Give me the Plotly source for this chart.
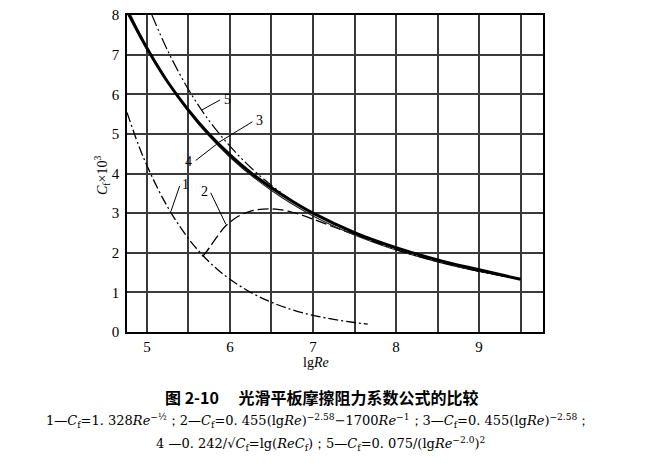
import plotly.graph_objects as go

# ---- data (lgRe, Cf x 10^3) ----
x1 = [4.76, 4.9, 5.0, 5.2, 5.4, 5.6, 5.8, 6.0, 6.25, 6.5, 6.75, 7.0, 7.25, 7.5, 7.66]
y1 = [5.54, 4.71, 4.20, 3.34, 2.65, 2.10, 1.67, 1.33, 1.00, 0.75, 0.56, 0.42, 0.32, 0.24, 0.20]

x2 = [5.67, 5.75, 5.85, 5.95, 6.1, 6.25, 6.4, 6.55, 6.7, 6.85, 7.0, 7.25, 7.5, 7.75, 8.0]
y2 = [1.9, 2.12, 2.42, 2.68, 2.92, 3.05, 3.1, 3.1, 3.05, 2.96, 2.85, 2.65, 2.46, 2.28, 2.11]

x3 = [4.76, 5.0, 5.25, 5.5, 5.75, 6.0, 6.25, 6.5, 6.75, 7.0, 7.5, 8.0, 8.5, 9.0, 9.5]
y3 = [8.1, 7.16, 6.31, 5.60, 4.99, 4.47, 4.02, 3.64, 3.30, 3.00, 2.51, 2.13, 1.82, 1.57, 1.33]

x4 = [4.76, 5.0, 5.5, 6.0, 6.5, 7.0, 7.5, 8.0, 8.5, 9.0, 9.5]
y4 = [8.2, 7.2, 5.56, 4.41, 3.57, 2.93, 2.45, 2.07, 1.77, 1.53, 1.34]

x5 = [5.06, 5.25, 5.5, 5.75, 6.0, 6.25, 6.5, 6.75, 7.0, 7.5, 8.0, 8.5, 9.0, 9.5]
y5 = [8.0, 7.10, 6.12, 5.33, 4.69, 4.15, 3.70, 3.32, 3.00, 2.48, 2.08, 1.78, 1.53, 1.33]

x_ticks = [5, 6, 7, 8, 9]
y_ticks = [0, 1, 2, 3, 4, 5, 6, 7, 8]

# curve label positions: (label text, label x, label y, curve point x, curve point y)
curve_labels = [
    ("1", 5.40, 3.72, 5.29, 3.05),
    ("2", 5.76, 3.55, 5.95, 2.72),
    ("3", 6.29, 5.33, 5.86, 4.78),
    ("4", 5.57, 4.30, 5.84, 4.74),
    ("5", 5.90, 5.88, 5.66, 5.60),
]

SERIF = "Liberation Serif, Times New Roman, serif"
WSERIF = "DejaVu Serif, serif"
CJK = "Noto Sans CJK SC"

fig = go.Figure()
fig.add_trace(go.Scatter(x=x1, y=y1, mode="lines", line=dict(color="black", width=1.3, dash="10px,3px,2px,3px", shape="spline")))
fig.add_trace(go.Scatter(x=x2, y=y2, mode="lines", line=dict(color="black", width=1.3, dash="11px,4px", shape="spline")))
fig.add_trace(go.Scatter(x=x4, y=y4, mode="lines", line=dict(color="#222", width=1.1, shape="spline")))
fig.add_trace(go.Scatter(x=x3, y=y3, mode="lines", line=dict(color="black", width=3, shape="spline")))
fig.add_trace(go.Scatter(x=x5, y=y5, mode="lines", line=dict(color="black", width=1.2, dash="12px,3px,2px,3px,2px,3px", shape="spline")))

for t, lx, ly, cx, cy in curve_labels:
    fig.add_annotation(x=cx, y=cy, ax=lx, ay=ly, axref="x", ayref="y", xref="x", yref="y",
                       text="", showarrow=True, arrowhead=0, arrowwidth=1, arrowcolor="black")
    fig.add_annotation(x=lx, y=ly, xref="x", yref="y", text=t, showarrow=False,
                       font=dict(family=SERIF, size=14, color="black"),
                       xanchor="left" if t in ("3", "5", "1") else "right", yanchor="middle")

grid = dict(showgrid=True, gridcolor="#3a3a3a", gridwidth=1.5)
fig.update_xaxes(range=[4.76, 9.77], tickvals=x_ticks, ticks="", zeroline=False, automargin=False,
                 ticklabeloverflow="allow",
                 showline=True, mirror=True, linecolor="black", linewidth=1.5,
                 minor=dict(dtick=0.5, tick0=5, showgrid=True, gridcolor="#3a3a3a", gridwidth=1.5),
                 tickfont=dict(family=SERIF, size=15, color="black"), **grid)
fig.update_yaxes(range=[0, 8], tickvals=y_ticks, ticks="outside", ticklen=3, tickcolor="white",
                 zeroline=False, automargin=False, ticklabeloverflow="allow",
                 showline=True, mirror=True, linecolor="black", linewidth=1.5,
                 tickfont=dict(family=SERIF, size=15, color="black"), **grid)

def ann(px, py, text, font, **kw):
    # px, py: page pixel positions converted to plot-paper fractions
    fig.add_annotation(xref="paper", yref="paper", x=(px - 127) / 416, y=(332 - py) / 317,
                       showarrow=False, text=text, font=font, xanchor="center", yanchor="middle", **kw)

# axis titles
ann(102, 175, "<i>C</i><sub>f</sub>×10<sup>3</sup>", dict(family=SERIF, size=14, color="black"), textangle=-90)
ann(316, 362, "lg<i>Re</i>", dict(family=SERIF, size=14, color="black"))

# caption
ann(322, 397, "<b>图 2-10　 光滑平板摩擦阻力系数公式的比较</b>", dict(family=CJK, size=16, color="black"))
ann(318, 421,
    "1—<i>C</i><sub>f</sub>=1. 328<i>Re</i><sup>−½</sup>；2—<i>C</i><sub>f</sub>=0. 455(lg<i>Re</i>)<sup>−2.58</sup>−1700<i>Re</i><sup>−1</sup>；3—<i>C</i><sub>f</sub>=0. 455(lg<i>Re</i>)<sup>−2.58</sup>；",
    dict(family=WSERIF, size=13, color="black"))
ann(320, 444,
    "4 —0. 242/√<i>C</i><sub>f</sub>=lg(<i>Re</i><i>C</i><sub>f</sub>)；5—<i>C</i><sub>f</sub>=0. 075/(lg<i>Re</i><sup>−2.0</sup>)<sup>2</sup>",
    dict(family=WSERIF, size=13, color="black"))

# page body has an 8px default margin; size the figure so the plot lands at the same page pixels
fig.update_layout(width=643, height=464, margin=dict(l=119, r=108, t=7, b=140),
                  paper_bgcolor="white", plot_bgcolor="white", showlegend=False)

fig.write_html("out.html")
